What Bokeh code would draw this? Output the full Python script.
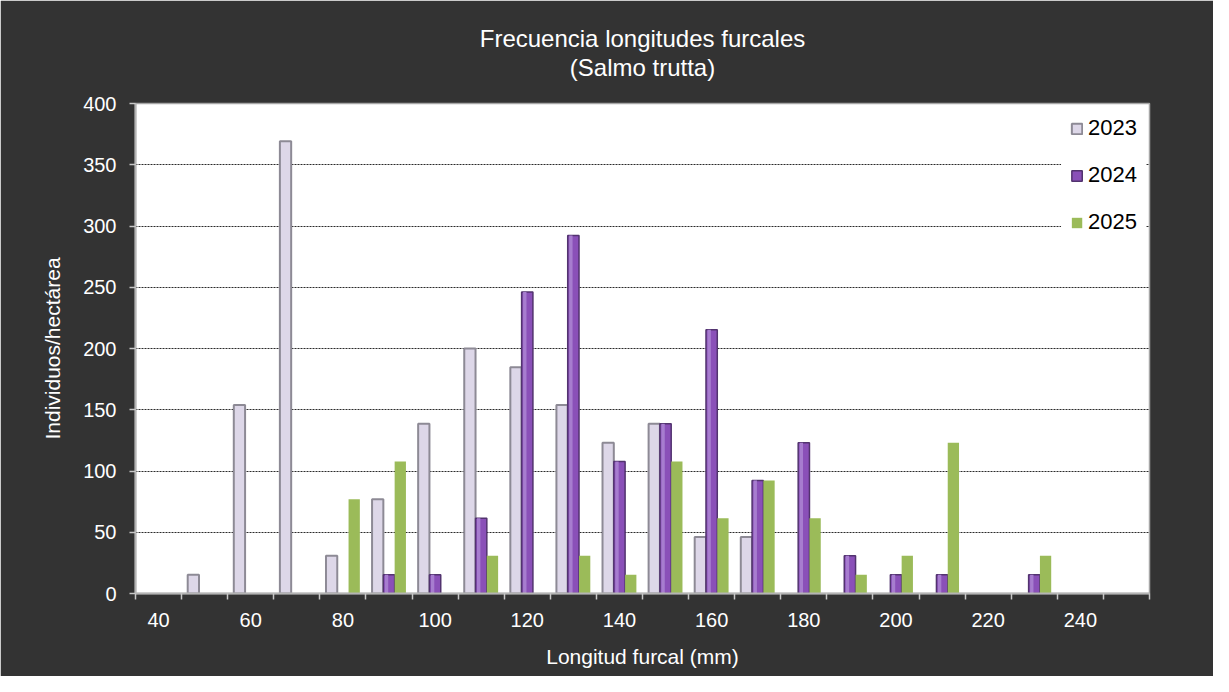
from bokeh.plotting import figure
from bokeh.models import Range1d, FixedTicker, ColumnDataSource, Legend, LegendItem, Title
from bokeh.transform import dodge
from bokeh.embed import file_html
from bokeh.resources import INLINE

# ---- data ----
lengths = [40, 50, 60, 70, 80, 90, 100, 110, 120, 130, 140, 150, 160, 170, 180, 190, 200, 210, 220, 230, 240, 250]
y2023 = [0, 15.4, 153.8, 369.2, 30.8, 76.9, 138.5, 200.0, 184.6, 153.8, 123.1, 138.5, 46.2, 46.2, 0, 0, 0, 0, 0, 0, 0, 0]
y2024 = [0, 0, 0, 0, 0, 15.4, 15.4, 61.5, 246.2, 292.3, 107.7, 138.5, 215.4, 92.3, 123.1, 30.8, 15.4, 15.4, 0, 15.4, 0, 0]
y2025 = [0, 0, 0, 0, 76.9, 107.7, 0, 30.8, 0, 30.8, 15.4, 107.7, 61.5, 92.3, 61.5, 15.4, 30.8, 123.1, 0, 30.8, 0, 0]
series_names = ["2023", "2024", "2025"]
x_tick_labels = [40, 60, 80, 100, 120, 140, 160, 180, 200, 220, 240]
y_ticks = [0, 50, 100, 150, 200, 250, 300, 350, 400]
title_lines = ["Frecuencia longitudes furcales", "(Salmo trutta)"]

FONT = "Liberation Sans"
BW = 2.45  # bar width in data units


def src(vals):
    xs = [x for x, v in zip(lengths, vals) if v > 0]
    ys = [v for v in vals if v > 0]
    return ColumnDataSource(dict(x=xs, top=ys))


p = figure(width=1213, height=676,
           x_range=Range1d(35, 255), y_range=Range1d(0, 400),
           output_backend="svg", toolbar_location=None,
           min_border_left=135, min_border_right=64,
           min_border_top=103, min_border_bottom=83,
           background_fill_color="white", border_fill_color="#333333")
p.outline_line_color = "#a6a6a6"
p.outline_line_width = 1.5

# ---- title: blank gap panel, then line 2, then line 1 (stacked outward) ----
p.add_layout(Title(text=" ", align="center", text_font_size="24px", text_color="white",
                   text_font=FONT, text_font_style="normal", standoff=-6), "above")
p.add_layout(Title(text=title_lines[1], align="center", vertical_align="bottom",
                   text_font_size="24px", text_color="white", text_font_style="normal",
                   text_font=FONT, standoff=0), "above")
p.add_layout(Title(text=title_lines[0], align="center", vertical_align="bottom",
                   text_font_size="24px", text_color="white", text_font_style="normal",
                   text_font=FONT, standoff=0), "above")

# ---- bars ----
s23, s24, s25 = src(y2023), src(y2024), src(y2025)
r23 = p.vbar(x=dodge("x", -BW, range=p.x_range), top="top", width=BW, source=s23,
             fill_color="#ddd7e8", line_color="#8d8a95", line_width=2)
r24 = p.vbar(x=dodge("x", 0, range=p.x_range), top="top", width=BW, source=s24,
             fill_color="#8a50b8", line_color="#52336f", line_width=1.5)
p.vbar(x=dodge("x", -BW * 0.22, range=p.x_range), top="top", width=BW * 0.3, source=s24,
       fill_color="#a77dcf", line_color=None, bottom=0)
r25 = p.vbar(x=dodge("x", BW, range=p.x_range), top="top", width=BW, source=s25,
             fill_color="#9bbb59", line_color=None)

# ---- axes ----
p.xaxis.ticker = FixedTicker(ticks=x_tick_labels, minor_ticks=list(range(35, 256, 10)))
p.xaxis.major_tick_line_color = None
p.xaxis.major_tick_out = 0
p.xaxis.minor_tick_line_color = "#c8c8c8"
p.xaxis.minor_tick_out = 6
p.xaxis.minor_tick_in = 0
p.xaxis.minor_tick_line_width = 1.5
p.xaxis.major_label_standoff = 13
p.xaxis.axis_label = "Longitud furcal (mm)"
p.xaxis.axis_label_standoff = 15

p.yaxis.ticker = FixedTicker(ticks=y_ticks)
p.yaxis.minor_tick_line_color = None
p.yaxis.major_tick_out = 6
p.yaxis.major_tick_in = 0
p.yaxis.major_tick_line_color = "#c8c8c8"
p.yaxis.major_tick_line_width = 1.5
p.yaxis.major_label_standoff = 13
p.yaxis.axis_label = "Individuos/hectárea"
p.yaxis.axis_label_standoff = 16

for ax in (p.xaxis, p.yaxis):
    ax.axis_line_color = "#b4b4b4"
    ax.axis_line_width = 2
    ax.major_label_text_font = FONT
    ax.major_label_text_font_size = "20px"
    ax.major_label_text_color = "white"
    ax.axis_label_text_font = FONT
    ax.axis_label_text_font_size = "21px"
    ax.axis_label_text_font_style = "normal"
    ax.axis_label_text_color = "white"

p.xgrid.visible = False
p.ygrid.grid_line_color = "#2a2a2a"
p.ygrid.grid_line_dash = "2 1"
p.ygrid.grid_line_width = 1

# ---- legend ----
legend = Legend(items=[LegendItem(label=series_names[0], renderers=[r23]),
                       LegendItem(label=series_names[1], renderers=[r24]),
                       LegendItem(label=series_names[2], renderers=[r25])],
                location="top_right", label_text_font=FONT, label_text_font_size="22px",
                label_text_color="black", glyph_width=13, glyph_height=13,
                label_height=20, spacing=21, padding=9, margin=3, label_standoff=5,
                background_fill_color="white", background_fill_alpha=1.0,
                border_line_alpha=0)
p.add_layout(legend)

open("out.html", "w").write(file_html(p, INLINE))
